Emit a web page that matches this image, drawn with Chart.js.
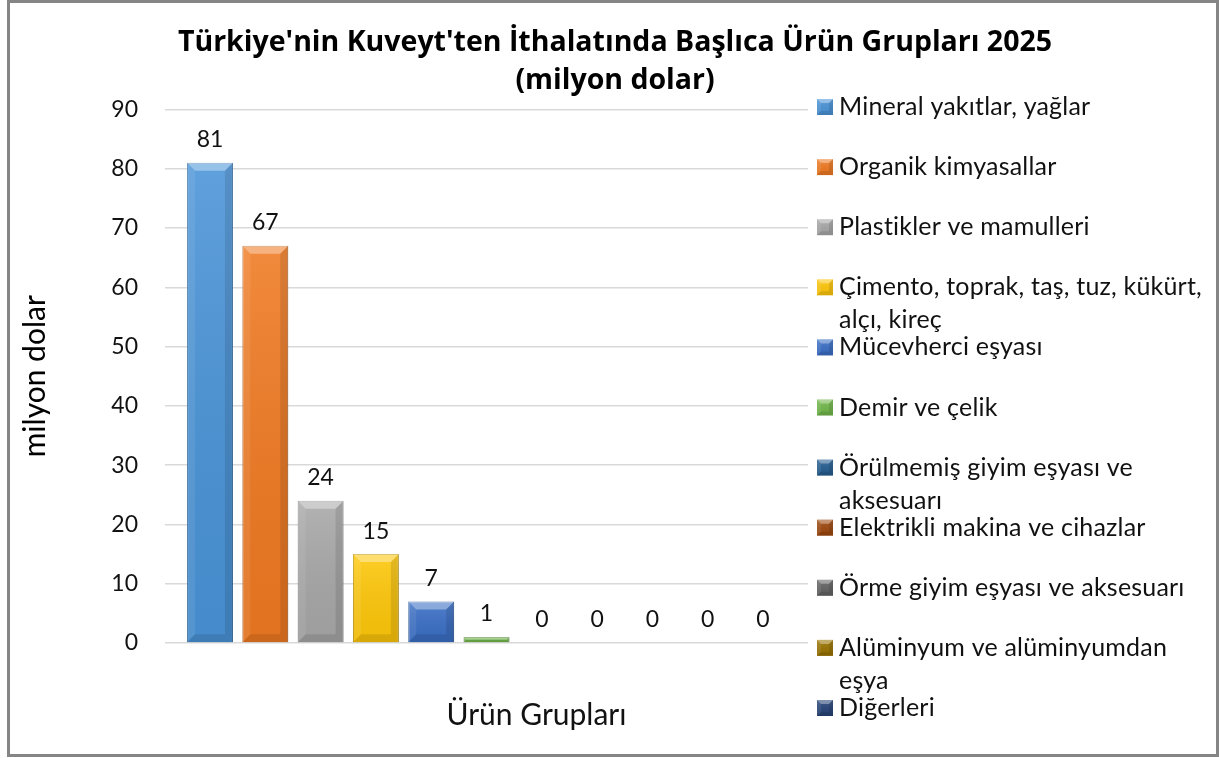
<!DOCTYPE html>
<html lang="tr">
<head>
<meta charset="utf-8">
<title>Türkiye'nin Kuveyt'ten İthalatı</title>
<script src="https://cdn.jsdelivr.net/npm/chart.js@4.4.1/dist/chart.umd.min.js"></script>
<style>
  html, body { margin: 0; padding: 0; background: #fff; }
  #kutu { position: relative; width: 1219px; height: 758px; overflow: hidden; }
  #grafik { position: absolute; left: 0; top: 0; }
  #cerceve { position: absolute; left: 7px; top: 0; width: 1212px; height: 757px; box-sizing: border-box; border: 3px solid #858585; pointer-events: none; }
</style>
</head>
<body>
<div id="kutu">
  <canvas id="grafik" width="1219" height="758"></canvas>
  <div id="cerceve"></div>
</div>
<script>
const baslik = ["Türkiye'nin Kuveyt'ten İthalatında Başlıca Ürün Grupları 2025", "(milyon dolar)"];
const kategoriler = ["Ürün Grupları"];
const eksenBasligi = "milyon dolar";

const urunGruplari = [
  "Mineral yakıtlar, yağlar",
  "Organik kimyasallar",
  "Plastikler ve mamulleri",
  "Çimento, toprak, taş, tuz, kükürt, alçı, kireç",
  "Mücevherci eşyası",
  "Demir ve çelik",
  "Örülmemiş giyim eşyası ve aksesuarı",
  "Elektrikli makina ve cihazlar",
  "Örme giyim eşyası ve aksesuarı",
  "Alüminyum ve alüminyumdan eşya",
  "Diğerleri"
];
const degerler = [81, 67, 24, 15, 7, 1, 0, 0, 0, 0, 0];
const renkler = ["#4a94d8", "#f07a22", "#a8a8a8", "#ffc80a", "#3a6fc6", "#72b84a",
                 "#255e91", "#9e480e", "#636363", "#997300", "#264478"];

const FONT = "Lato, 'Noto Sans', sans-serif";

function koyulastir(hex, k = 0.75) {
  const n = parseInt(hex.slice(1), 16);
  const r = Math.round(((n >> 16) & 255) * k);
  const g = Math.round(((n >> 8) & 255) * k);
  const b = Math.round((n & 255) * k);
  return `rgb(${r},${g},${b})`;
}

// kabartma (bevel) efekti
function kabartma(ctx, left, top, w, h, bMax) {
  const b = Math.min(bMax, h / 2, w / 2);
  const right = left + w, bottom = top + h;
  const g = ctx.createLinearGradient(0, top, 0, bottom);
  g.addColorStop(0, "rgba(255,255,255,0.12)");
  g.addColorStop(1, "rgba(0,0,0,0.06)");
  ctx.fillStyle = g;
  ctx.fillRect(left, top, w, h);

  const poly = (pts, renk) => {
    ctx.beginPath();
    ctx.moveTo(pts[0][0], pts[0][1]);
    for (let i = 1; i < pts.length; i++) ctx.lineTo(pts[i][0], pts[i][1]);
    ctx.closePath();
    ctx.fillStyle = renk;
    ctx.fill();
  };
  poly([[left, top], [right, top], [right - b, top + b], [left + b, top + b]], "rgba(255,255,255,0.35)");
  poly([[left, top], [left + b, top + b], [left + b, bottom - b], [left, bottom]], "rgba(255,255,255,0.08)");
  poly([[right, top], [right - b, top + b], [right - b, bottom - b], [right, bottom]], "rgba(0,0,0,0.10)");
  poly([[left, bottom], [left + b, bottom - b], [right - b, bottom - b], [right, bottom]], "rgba(0,0,0,0.10)");
}

const kabartmaEklentisi = {
  id: "kabartma",
  afterDatasetsDraw(chart) {
    const ctx = chart.ctx;
    ctx.save();
    chart.data.datasets.forEach((ds, i) => {
      chart.getDatasetMeta(i).data.forEach(el => {
        const p = el.getProps(["x", "y", "base", "width"], true);
        const top = Math.min(p.y, p.base), h = Math.abs(p.base - p.y);
        if (h < 1) return;
        kabartma(ctx, p.x - p.width / 2, top, p.width, h, 8);
      });
    });
    ctx.restore();
  }
};

const etiketEklentisi = {
  id: "etiketler",
  afterDatasetsDraw(chart) {
    const ctx = chart.ctx;
    ctx.save();
    ctx.font = "23px " + FONT;
    ctx.fillStyle = "#111";
    ctx.textAlign = "center";
    ctx.textBaseline = "middle";
    chart.data.datasets.forEach((ds, i) => {
      chart.getDatasetMeta(i).data.forEach((el, j) => {
        ctx.fillText(String(ds.data[j]), el.x, el.y - 23);
      });
    });
    ctx.restore();
  }
};

const baslikEklentisi = {
  id: "baslik",
  afterDraw(chart) {
    const ctx = chart.ctx;
    ctx.save();
    ctx.font = "bold 28.5px 'Open Sans', " + FONT;
    ctx.fillStyle = "#000";
    ctx.textAlign = "center";
    ctx.textBaseline = "middle";
    baslik.forEach((satir, i) => ctx.fillText(satir, 615, 43 + i * 38));
    ctx.restore();
  }
};

function satirlaraBol(ctx, metin, genislik) {
  const kelimeler = metin.split(" ");
  const satirlar = [];
  let satir = "";
  kelimeler.forEach(k => {
    const deneme = satir ? satir + " " + k : k;
    if (satir && ctx.measureText(deneme).width > genislik) {
      satirlar.push(satir);
      satir = k;
    } else {
      satir = deneme;
    }
  });
  if (satir) satirlar.push(satir);
  return satirlar;
}

const aciklamaEklentisi = {
  id: "aciklama",
  afterDraw(chart) {
    const ctx = chart.ctx;
    ctx.save();
    ctx.font = "25px " + FONT;
    ctx.letterSpacing = "0.2px";
    ctx.textAlign = "left";
    ctx.textBaseline = "middle";
    chart.data.datasets.forEach((ds, i) => {
      const y = 107 + i * 60.1;
      ctx.fillStyle = ds.backgroundColor;
      ctx.fillRect(817, y - 8, 16, 16);
      kabartma(ctx, 817, y - 8, 16, 16, 4);
      ctx.fillStyle = "#111";
      satirlaraBol(ctx, ds.label, 368).forEach((s, k) => ctx.fillText(s, 839, y + k * 33));
    });
    ctx.restore();
  }
};

new Chart(document.getElementById("grafik"), {
  type: "bar",
  data: {
    labels: kategoriler,
    datasets: urunGruplari.map((ad, i) => ({
      label: ad,
      data: [degerler[i]],
      backgroundColor: renkler[i],
      borderColor: koyulastir(renkler[i]),
      borderWidth: 1,
      categoryPercentage: 0.946,
      barPercentage: 0.83
    }))
  },
  options: {
    responsive: false,
    animation: false,
    layout: { padding: { left: 0, right: 411, top: 109.5, bottom: 0 } },
    plugins: {
      legend: { display: false },
      title: { display: false },
      tooltip: { enabled: false }
    },
    scales: {
      x: {
        grid: { display: false },
        border: { display: false },
        ticks: { font: { size: 30, family: FONT }, color: "#111", padding: 46, labelOffset: 50 },
        afterFit(s) { s.height = 115; }
      },
      y: {
        min: 0,
        max: 90,
        ticks: { stepSize: 10, font: { size: 23, family: FONT }, color: "#111", padding: 27 },
        grid: { color: "#d9d9d9", lineWidth: 1.5, drawTicks: false },
        border: { display: false },
        title: { display: true, text: eksenBasligi, font: { size: 30, family: FONT }, color: "#000", padding: { top: 17, bottom: 0 } },
        afterFit(s) { s.width = 165; }
      }
    }
  },
  plugins: [kabartmaEklentisi, etiketEklentisi, baslikEklentisi, aciklamaEklentisi]
});
</script>
</body>
</html>
